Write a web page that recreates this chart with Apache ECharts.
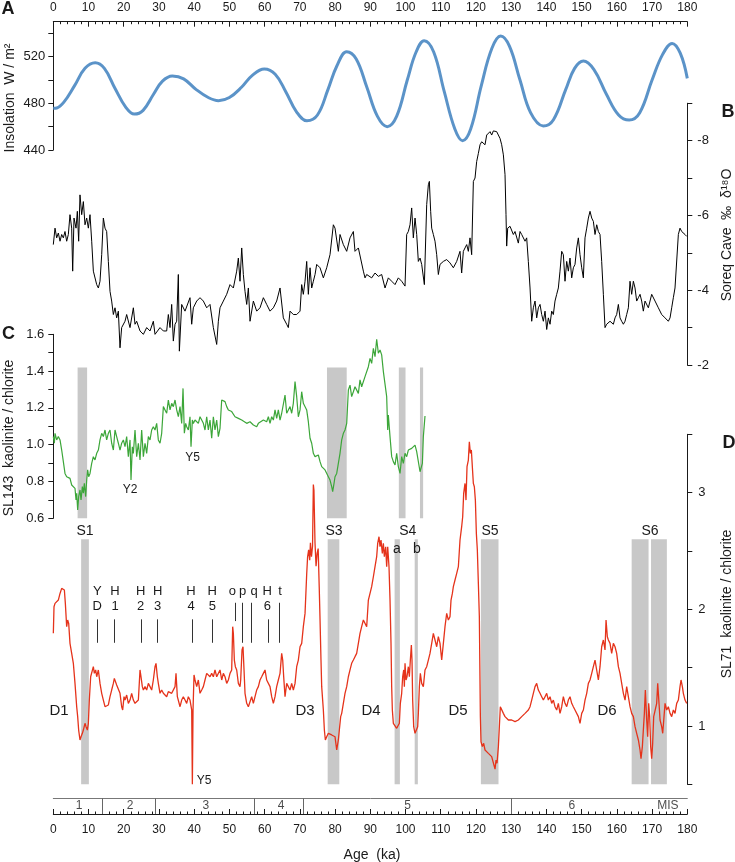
<!DOCTYPE html>
<html><head><meta charset="utf-8">
<script src="https://cdn.jsdelivr.net/npm/echarts@6/dist/echarts.min.js"></script>
<style>html,body{margin:0;padding:0;background:#fff}#c{width:735px;height:862px}</style>
</head><body><div id="c"></div>
<script>
// ---------- DATA (age ka, value) ----------
const insolation = [[0,475.7],[1,476],[3,481],[6,495],[9,510],[11.9,514.8],[14.5,510],[17.5,493],[20.5,477],[23,470.8],[25.5,474],[28.5,488],[31,499],[33.8,503.4],[37,501],[40.5,492],[44,485],[46.9,482.3],[50,485],[53.5,494],[56.5,504],[59.9,509.4],[63,505],[66,490],[69,473],[72,465.1],[75,470],[78,492],[80.5,512],[83.3,524.3],[86,518],[89,494],[92,469],[94.8,460],[97.5,469],[100.5,500],[103,524],[105.3,533.7],[108,524],[111,490],[114,458],[116.2,448],[118.5,458],[121.5,495],[124.5,527],[127,537.7],[129.5,529],[132.5,500],[135.5,472],[139.1,460.6],[142,466],[145.5,492],[148,510],[150.5,516.3],[153.5,509],[157,488],[160.5,470],[163.5,465.7],[166.5,472],[170,500],[173,522],[175.7,531.4],[178,523],[180,501.4]];

const soreq = [[0,-5.22],[0.49,-5.66],[0.96,-5.40],[1.43,-5.53],[1.91,-5.31],[2.38,-5.49],[2.85,-5.40],[3.32,-5.57],[3.80,-5.31],[4.27,-5.49],[4.74,-6.02],[5.22,-5.66],[5.50,-4.51],[5.88,-5.93],[6.45,-5.66],[6.83,-6.11],[7.20,-5.31],[7.58,-6.55],[8.06,-6.02],[8.53,-6.37],[9.00,-5.75],[9.48,-5.93],[9.95,-5.66],[10.42,-6.02],[10.90,-5.31],[11.37,-4.51],[12.32,-4.15],[12.79,-4.06],[13.26,-4.24],[13.74,-4.95],[14.21,-5.93],[14.68,-5.66],[15.15,-5.57],[15.63,-4.77],[16.10,-3.97],[16.57,-3.71],[17.05,-3.35],[17.52,-3.53],[17.99,-3.26],[18.47,-3.44],[18.94,-2.46],[19.41,-3.00],[20.36,-3.17],[20.83,-3.35],[21.78,-3.00],[22.73,-3.53],[23.20,-3.09],[23.67,-3.17],[24.62,-2.91],[25.57,-2.82],[26.51,-3.00],[27.46,-2.91],[28.40,-3.17],[28.88,-2.82],[30.30,-3.00],[31.25,-2.91],[32.19,-2.91],[32.66,-3.35],[33.14,-3.00],[33.61,-3.62],[34.08,-2.64],[34.56,-3.09],[35.03,-3.17],[35.50,-4.42],[35.79,-2.37],[36.45,-3.62],[37.40,-3.44],[38.81,-3.80],[39.29,-3.09],[39.76,-3.53],[40.71,-3.71],[41.65,-3.80],[42.60,-3.71],[43.55,-3.53],[44.49,-3.62],[45.44,-3.00],[46.39,-2.55],[46.86,-3.17],[47.33,-3.53],[48.28,-3.71],[49.23,-3.89],[50.17,-4.15],[51.12,-4.06],[52.07,-4.51],[52.54,-4.86],[53.01,-4.24],[53.49,-5.13],[53.96,-4.42],[54.43,-3.97],[54.91,-3.62],[55.38,-4.06],[55.85,-3.17],[56.80,-3.71],[57.74,-3.44],[58.69,-3.53],[59.64,-3.80],[60.58,-3.62],[61.53,-3.44],[62.48,-3.53],[63.42,-3.71],[64.37,-4.06],[65.31,-3.26],[66.26,-3.09],[66.73,-3.00],[67.21,-3.44],[68.15,-3.35],[69.10,-3.35],[70.05,-3.44],[70.52,-4.15],[70.99,-3.89],[71.47,-4.24],[71.94,-4.77],[72.41,-3.89],[72.89,-4.60],[73.36,-4.06],[73.83,-4.24],[74.31,-4.42],[74.78,-4.69],[75.73,-4.60],[76.67,-4.33],[77.62,-4.60],[78.56,-4.95],[79.51,-5.75],[79.98,-5.66],[80.93,-5.04],[81.40,-5.49],[82.35,-5.22],[83.30,-5.04],[84.24,-5.40],[85.19,-5.57],[85.66,-5.04],[86.61,-5.13],[87.08,-5.13],[88.03,-4.51],[88.50,-4.33],[88.97,-4.42],[89.45,-4.42],[90.39,-4.33],[91.34,-4.46],[92.29,-4.37],[93.23,-4.42],[94.18,-4.06],[95.12,-4.33],[96.07,-4.24],[97.02,-4.15],[97.96,-4.33],[98.91,-4.24],[99.86,-4.11],[100.33,-5.49],[100.80,-5.57],[101.28,-5.75],[101.75,-6.20],[102.22,-5.40],[102.70,-5.93],[103.17,-5.49],[103.64,-4.77],[104.12,-4.86],[104.59,-4.69],[105.35,-4.15],[106.01,-6.29],[106.48,-6.82],[106.77,-6.91],[107.14,-6.11],[107.43,-5.66],[107.90,-5.49],[108.37,-5.31],[108.85,-4.95],[109.32,-4.42],[109.79,-4.69],[110.74,-4.77],[111.69,-4.82],[112.63,-4.73],[113.58,-4.60],[114.53,-4.77],[115.47,-5.04],[115.94,-4.46],[116.42,-5.04],[116.89,-5.13],[117.37,-5.22],[117.84,-5.04],[118.31,-5.40],[118.78,-4.95],[119.26,-6.91],[119.73,-7.00],[120.20,-7.44],[120.68,-7.66],[121.15,-7.89],[121.62,-7.97],[122.10,-8.02],[122.57,-7.89],[123.04,-8.15],[123.52,-8.20],[123.99,-8.24],[124.46,-8.15],[124.94,-8.26],[125.41,-8.24],[125.88,-8.24],[126.36,-8.20],[126.83,-8.06],[127.30,-7.89],[127.78,-7.62],[128.25,-7.09],[128.53,-6.02],[128.72,-5.18],[129.01,-5.66],[129.67,-5.71],[130.61,-5.49],[131.09,-5.57],[132.03,-5.26],[132.51,-5.57],[132.98,-5.49],[133.93,-5.31],[134.40,-5.40],[134.87,-4.77],[135.35,-4.06],[135.82,-3.17],[136.29,-3.53],[136.77,-3.71],[137.24,-3.26],[137.71,-3.53],[138.19,-3.62],[138.66,-3.35],[139.13,-3.17],[139.61,-3.44],[140.08,-2.95],[140.55,-3.26],[141.03,-3.09],[141.50,-3.44],[141.97,-3.35],[142.44,-3.71],[142.92,-3.89],[143.39,-4.06],[143.86,-4.51],[144.34,-5.04],[144.81,-4.95],[145.28,-4.24],[145.76,-4.77],[146.23,-4.51],[146.70,-4.86],[147.18,-4.33],[147.65,-4.60],[148.12,-4.69],[148.60,-5.13],[149.07,-5.40],[149.54,-4.95],[150.02,-4.60],[150.49,-4.33],[150.96,-5.40],[151.44,-5.66],[151.91,-5.93],[152.38,-6.11],[152.86,-5.93],[153.33,-5.84],[153.80,-5.49],[154.28,-5.75],[154.75,-5.57],[155.22,-5.49],[155.69,-4.77],[156.17,-3.89],[156.64,-3.00],[157.11,-3.09],[158.06,-3.17],[158.53,-3.22],[159.01,-3.09],[159.48,-3.26],[159.95,-3.35],[160.43,-3.62],[160.90,-3.26],[161.37,-3.17],[161.85,-3.09],[162.32,-3.17],[162.79,-3.35],[163.27,-3.53],[163.74,-4.24],[164.21,-3.89],[164.69,-4.24],[165.16,-4.06],[165.63,-3.71],[166.11,-3.80],[166.58,-3.89],[167.05,-3.71],[167.52,-3.44],[168.00,-3.71],[168.94,-3.53],[169.89,-3.89],[170.84,-3.71],[171.78,-3.53],[172.73,-3.35],[173.68,-3.26],[174.62,-3.17],[175.10,-3.26],[175.57,-3.53],[176.04,-3.80],[176.51,-4.06],[176.99,-4.06],[177.46,-5.49],[177.93,-5.66],[178.41,-5.57],[179.35,-5.49],[179.83,-5.44]];

const sl143 = [[0.01,1.044],[0.30,1.008],[0.49,1.062],[0.96,1.026],[1.43,1.044],[1.91,1.026],[2.38,0.971],[2.85,0.908],[3.32,0.844],[3.80,0.826],[4.27,0.835],[4.74,0.817],[5.22,0.781],[5.69,0.790],[6.16,0.763],[6.45,0.700],[6.64,0.736],[6.92,0.645],[7.20,0.718],[7.58,0.754],[7.87,0.700],[8.25,0.772],[8.53,0.736],[8.81,0.790],[9.19,0.718],[9.48,0.808],[9.76,0.863],[10.04,0.826],[10.42,0.844],[10.90,0.899],[11.37,0.935],[11.84,0.917],[12.32,0.953],[12.79,0.971],[13.26,1.026],[13.74,1.062],[14.21,1.044],[14.68,1.080],[15.15,1.026],[15.63,1.062],[16.10,1.080],[16.57,1.008],[17.05,0.971],[17.52,1.080],[17.99,1.044],[18.47,1.008],[18.94,0.971],[19.41,1.008],[19.89,1.026],[20.36,0.989],[20.83,1.044],[21.31,0.935],[21.78,1.026],[22.06,0.808],[22.44,0.989],[22.73,0.953],[23.20,1.080],[23.67,0.935],[24.15,1.008],[24.62,0.917],[25.09,1.080],[25.57,0.935],[26.04,1.008],[26.51,0.953],[26.99,1.044],[27.46,1.026],[27.93,1.080],[28.40,1.098],[28.88,1.080],[29.35,1.116],[29.82,1.026],[30.30,1.008],[30.77,1.062],[31.25,1.207],[31.72,1.189],[32.19,1.171],[32.66,1.243],[33.14,1.189],[33.61,1.225],[34.08,1.207],[34.56,1.243],[35.03,1.189],[35.50,1.152],[35.98,1.207],[36.45,1.116],[36.83,1.306],[37.21,1.062],[37.58,1.116],[37.87,1.098],[38.34,1.080],[38.81,1.152],[39.10,0.989],[39.48,1.134],[39.76,1.116],[40.24,1.134],[40.71,1.143],[41.18,1.116],[41.65,1.152],[42.13,1.134],[42.60,1.116],[43.07,1.080],[43.55,1.152],[44.02,1.080],[44.49,1.134],[44.97,1.035],[45.44,1.152],[45.91,1.080],[46.39,1.134],[46.86,1.044],[47.33,1.089],[47.81,1.243],[48.28,1.252],[48.75,1.234],[49.23,1.207],[49.70,1.189],[50.17,1.198],[50.65,1.180],[51.12,1.171],[51.59,1.152],[52.07,1.161],[52.54,1.143],[53.01,1.152],[53.49,1.134],[53.96,1.125],[54.91,1.116],[55.85,1.125],[56.80,1.107],[57.74,1.098],[58.22,1.116],[58.69,1.107],[59.64,1.134],[60.58,1.125],[61.06,1.152],[61.53,1.116],[62.00,1.152],[62.48,1.134],[62.95,1.189],[63.42,1.143],[63.89,1.189],[64.37,1.134],[64.84,1.171],[65.31,1.171],[65.79,1.270],[66.26,1.171],[66.73,1.189],[67.21,1.207],[67.68,1.171],[68.15,1.225],[68.63,1.343],[69.10,1.261],[69.57,1.152],[70.05,1.189],[70.52,1.288],[70.99,1.225],[71.47,1.234],[71.94,1.189],[72.41,1.125],[72.89,1.035],[73.36,1.008],[73.83,0.953],[74.31,0.935],[74.78,0.926],[75.25,0.944],[75.73,0.908],[76.20,0.881],[76.67,0.890],[77.15,0.863],[77.62,0.872],[78.09,0.826],[78.56,0.808],[79.04,0.772],[79.32,0.745],[79.70,0.790],[79.98,0.826],[80.46,0.844],[80.93,0.899],[81.40,0.953],[81.88,1.026],[82.35,1.062],[82.82,1.080],[83.30,1.116],[83.77,1.297],[84.24,1.324],[84.71,1.261],[85.19,1.288],[85.66,1.315],[86.13,1.306],[86.61,1.279],[87.08,1.352],[87.55,1.315],[88.03,1.324],[88.50,1.370],[88.97,1.379],[89.45,1.424],[89.92,1.469],[90.39,1.442],[90.87,1.524],[91.34,1.478],[91.81,1.573],[92.29,1.497],[92.76,1.515],[93.23,1.488],[93.71,1.397],[94.18,1.397],[94.65,1.261],[94.94,1.080],[95.12,1.161],[95.60,1.044],[96.07,0.935],[96.54,0.908],[97.02,0.890],[97.49,0.953],[97.96,0.881],[98.44,0.844],[98.91,0.935],[99.38,0.899],[99.86,0.953],[100.33,0.935],[100.80,0.971],[101.28,0.962],[101.75,0.980],[102.22,0.989],[102.70,0.998],[103.17,0.962],[103.64,0.953],[104.12,0.853],[104.40,0.844],[104.78,0.899],[105.06,1.044],[105.53,1.156]];

const sl71 = [[0.01,1.794],[0.20,2.022],[0.49,2.051],[0.96,2.065],[1.43,2.079],[1.91,2.136],[2.38,2.179],[2.85,2.194],[3.14,2.165],[3.42,2.051],[3.80,1.851],[4.08,1.908],[4.37,1.879],[4.74,1.708],[5.22,1.622],[5.69,1.537],[6.16,1.365],[6.64,1.165],[6.92,1.080],[7.20,0.965],[7.58,0.880],[7.87,0.908],[8.25,0.937],[8.53,0.965],[9.00,1.023],[9.29,0.994],[9.67,0.965],[9.95,1.023],[10.23,1.222],[10.61,1.422],[10.90,1.408],[11.37,1.508],[11.65,1.451],[12.03,1.480],[12.32,1.422],[12.79,1.480],[13.26,1.365],[13.74,1.280],[14.21,1.222],[14.68,1.165],[15.15,1.165],[15.63,1.180],[16.10,1.251],[16.57,1.308],[17.05,1.365],[17.33,1.408],[17.61,1.422],[17.99,1.351],[18.47,1.337],[18.94,1.280],[19.41,1.165],[19.70,1.137],[20.08,1.251],[20.36,1.222],[20.83,1.265],[21.31,1.194],[21.78,1.222],[22.25,1.280],[22.73,1.222],[23.20,1.194],[23.67,1.208],[24.15,1.222],[24.62,1.480],[24.90,1.422],[25.28,1.337],[25.57,1.308],[26.04,1.337],[26.51,1.308],[26.99,1.365],[27.46,1.337],[27.93,1.308],[28.40,1.394],[28.88,1.508],[29.16,1.537],[29.54,1.422],[29.82,1.365],[30.30,1.280],[30.77,1.308],[31.25,1.280],[31.72,1.294],[32.19,1.251],[32.66,1.294],[33.14,1.280],[33.61,1.280],[34.08,1.265],[34.56,1.337],[34.84,1.451],[35.22,1.251],[35.50,1.251],[35.98,1.165],[36.45,1.222],[36.92,1.251],[37.40,1.222],[37.87,1.194],[38.34,1.251],[38.81,1.222],[39.29,1.137],[39.48,0.50],[39.67,1.137],[39.95,1.437],[40.24,1.394],[40.71,1.337],[41.18,1.394],[41.65,1.280],[42.13,1.308],[42.60,1.337],[43.07,1.394],[43.55,1.451],[44.02,1.465],[44.49,1.422],[44.97,1.451],[45.44,1.422],[45.91,1.480],[46.39,1.422],[46.86,1.437],[47.33,1.480],[47.81,1.394],[48.28,1.451],[48.75,1.422],[49.23,1.365],[49.70,1.394],[50.17,1.451],[50.65,1.480],[50.93,1.851],[51.12,1.794],[51.40,1.565],[51.69,1.508],[52.07,1.480],[52.54,1.365],[53.01,1.337],[53.20,1.394],[53.58,1.651],[53.86,1.679],[54.15,1.480],[54.43,1.280],[54.91,1.194],[55.38,1.165],[55.85,1.180],[56.32,1.251],[56.80,1.194],[57.27,1.251],[57.74,1.308],[58.22,1.337],[58.69,1.394],[59.16,1.422],[59.64,1.451],[60.11,1.480],[60.58,1.394],[61.06,1.394],[61.53,1.337],[62.00,1.251],[62.48,1.194],[62.95,1.251],[63.42,1.337],[63.89,1.394],[64.37,1.451],[64.84,1.622],[65.13,1.565],[65.41,1.422],[65.79,1.251],[66.26,1.365],[66.73,1.337],[67.21,1.308],[67.68,1.365],[68.15,1.308],[68.63,1.365],[69.10,1.508],[69.57,1.565],[70.05,1.679],[70.52,1.708],[70.99,1.851],[71.47,1.965],[71.94,2.300],[72.20,2.450],[72.50,2.510],[72.80,2.420],[73.00,2.570],[73.30,2.450],[73.60,2.540],[73.83,3.070],[74.00,3.020],[74.30,2.570],[74.60,2.370],[74.90,2.480],[75.20,2.520],[75.50,2.190],[75.73,1.910],[76.00,1.565],[76.20,1.337],[76.67,1.137],[76.96,0.965],[77.24,0.880],[77.62,0.908],[78.09,0.937],[78.56,0.951],[79.04,0.923],[79.51,0.937],[79.98,0.908],[80.46,0.794],[80.93,0.880],[81.21,0.965],[81.59,1.080],[81.88,1.108],[82.35,1.194],[82.82,1.280],[83.30,1.337],[83.77,1.422],[84.24,1.480],[84.71,1.537],[85.19,1.565],[85.66,1.594],[86.13,1.622],[86.61,1.708],[87.08,1.794],[87.55,1.851],[88.03,1.908],[88.50,1.922],[88.97,1.851],[89.45,2.079],[90.39,2.194],[90.87,2.279],[91.34,2.365],[91.81,2.451],[92.10,2.565],[92.47,2.622],[92.76,2.536],[93.04,2.594],[93.42,2.479],[93.71,2.565],[93.99,2.451],[94.37,2.536],[94.65,2.365],[94.94,2.536],[95.31,2.365],[95.60,2.079],[95.88,1.708],[96.07,1.337],[96.26,1.137],[96.54,1.023],[97.02,1.008],[97.49,0.980],[97.96,0.994],[98.25,1.023],[98.53,1.194],[98.91,1.280],[99.19,1.422],[99.48,1.480],[99.67,1.337],[99.86,1.537],[100.14,1.394],[100.42,1.422],[100.80,1.508],[101.09,1.422],[101.37,1.565],[101.66,1.694],[101.84,1.565],[102.03,1.222],[102.32,0.994],[102.70,0.937],[103.17,0.937],[103.45,0.994],[103.64,1.108],[103.93,1.337],[104.21,1.451],[104.59,1.365],[105.06,1.337],[105.53,1.480],[106.01,1.508],[106.48,1.565],[106.95,1.622],[107.43,1.708],[107.90,1.794],[108.37,1.737],[108.85,1.679],[109.32,1.765],[109.79,1.708],[110.27,1.565],[110.74,1.708],[111.21,1.851],[111.69,1.965],[112.16,1.908],[112.63,1.937],[112.92,2.079],[113.30,2.136],[113.58,2.194],[114.05,2.251],[114.53,2.308],[115.00,2.365],[115.47,2.594],[115.94,2.708],[116.23,2.793],[116.51,2.993],[116.89,3.079],[117.17,2.936],[117.46,3.222],[117.84,3.279],[118.12,3.436],[118.41,3.336],[118.69,3.365],[118.97,3.222],[119.26,3.079],[119.54,3.050],[119.83,2.936],[120.11,2.651],[120.39,2.508],[120.68,2.222],[120.96,1.937],[121.25,1.080],[121.43,0.865],[121.81,0.823],[122.19,0.851],[122.57,0.794],[123.04,0.808],[123.52,0.765],[123.99,0.780],[124.46,0.737],[124.94,0.751],[125.41,0.630],[125.70,0.708],[125.98,0.680],[126.36,0.823],[126.64,0.994],[126.92,1.165],[127.30,1.165],[127.78,1.108],[128.25,1.080],[128.72,1.080],[129.20,1.051],[130.14,1.051],[131.09,1.037],[131.56,1.023],[132.03,1.051],[132.98,1.080],[133.93,1.108],[134.87,1.137],[135.35,1.165],[135.82,1.222],[136.29,1.280],[136.77,1.337],[137.24,1.365],[137.71,1.308],[138.19,1.280],[138.66,1.251],[139.13,1.222],[139.61,1.251],[140.08,1.280],[140.55,1.222],[141.03,1.251],[141.50,1.194],[141.97,1.222],[142.44,1.165],[142.92,1.137],[143.39,1.194],[143.86,1.108],[144.34,1.165],[144.81,1.251],[145.28,1.194],[145.76,1.165],[146.23,1.222],[146.70,1.251],[147.18,1.194],[147.65,1.165],[148.12,1.137],[149.07,1.080],[149.54,1.023],[150.02,1.108],[150.49,1.137],[150.96,1.222],[151.44,1.280],[151.91,1.365],[152.38,1.394],[152.86,1.451],[153.33,1.508],[153.80,1.565],[154.28,1.565],[154.75,1.394],[155.22,1.508],[155.69,1.679],[156.17,1.737],[156.64,1.651],[156.93,1.908],[157.30,1.765],[157.59,1.737],[158.06,1.708],[158.53,1.622],[159.01,1.708],[159.48,1.679],[159.95,1.622],[160.43,1.508],[160.90,1.451],[161.37,1.365],[161.85,1.280],[162.32,1.222],[162.79,1.337],[163.27,1.337],[163.74,1.165],[164.21,1.108],[164.69,1.080],[165.16,0.994],[165.63,0.937],[166.11,0.880],[166.58,0.794],[166.86,0.720],[167.24,0.823],[167.52,0.965],[167.81,1.108],[168.09,1.308],[168.47,1.051],[168.75,0.908],[169.04,1.194],[169.32,1.080],[169.60,0.823],[169.89,0.720],[170.17,0.851],[170.46,1.080],[170.84,1.080],[171.31,1.194],[171.60,1.365],[171.97,1.194],[172.26,1.051],[172.73,0.994],[173.02,0.937],[173.39,1.080],[173.68,1.194],[174.15,1.137],[174.62,1.165],[175.10,1.108],[175.57,1.080],[176.04,1.137],[176.51,1.108],[176.99,1.194],[177.46,1.222],[177.93,1.337],[178.22,1.394],[178.60,1.337],[178.88,1.280],[179.35,1.222],[179.83,1.194]];

// shaded intervals (age from, age to)
const shadeC = [[6.9,9.6],[77.7,83.3],[98.1,100.0],[104.1,105.0]];
const shadeD = [[7.9,10.1],[77.9,81.2],[96.9,98.4],[102.6,103.5],[121.4,126.4],[164.2,169.0],[169.7,174.2]];
const shadeCRange = [0.6, 1.42];
const shadeDRange = [0.5, 2.6];

// event markers in SL71 (age, top value, bottom value)
const eventAges = [12.5,17.4,24.9,29.4,39.5,45.1,51.7,53.7,56.3,61.0,64.2];
const eventTop  = [1.914,1.914,1.914,1.914,1.914,1.914,2.056,2.056,2.056,1.914,2.056];
const eventBot  = [1.713,1.713,1.713,1.713,1.713,1.713,1.899,1.713,1.713,1.713,1.713];

// MIS stages
const misBounds = [14,29,57,71,130];
const misLabels = ['1','2','3','4','5','6','MIS'];
const misLabelAges = [7.3,21.8,43.3,64.7,100.6,147.2,174.5];

// ---------- CHART ----------
const FONT = '"Liberation Sans", Arial, Helvetica, sans-serif';
const INK = '#1a1a1a';
const L = 53.3, R = 47.7;
const xBase = {type:'value', min:0, max:180, interval:10};
const rng = (a,b,s)=>{const r=[];for(let i=0;a+i*s<=b+1e-9;i++)r.push(+(a+i*s).toFixed(4));return r;};

const hiddenX = g => Object.assign({gridIndex:g, show:false}, xBase);
const yCommon = (extra) => Object.assign({
  type:'value', splitLine:{show:false},
  axisLine:{show:true, onZero:false, lineStyle:{color:INK, width:1}},
  axisTick:{show:true, length:5, lineStyle:{color:INK, width:1}},
  axisLabel:{fontSize:13, color:INK, fontFamily:FONT}
}, extra);

const chart = echarts.init(document.getElementById('c'), null, {renderer:'canvas'});

const textEl = (t, x, y, size, opts={}) => ({
  type:'text', x, y, z:100, zlevel:0, rotation: opts.rot || 0, silent:true,
  style:{text:t, x:0, y:0, font:(opts.bold?'bold ':'') + size + 'px ' + FONT, fill:INK,
    align:'center', verticalAlign:'middle', textAlign:'center', textVerticalAlign:'middle'}
});

const graphics = [
  textEl('A', 8, 9, 18, {bold:true}),
  textEl('B', 728, 112, 18, {bold:true}),
  textEl('C', 8.5, 334, 18, {bold:true}),
  textEl('D', 729, 443, 18, {bold:true}),
  textEl('Insolation  W / m\u00B2', 10, 98, 14, {rot:Math.PI/2}),
  textEl('Soreq Cave  \u2030  \u03B4\u00B9\u2078O', 727, 235, 14, {rot:Math.PI/2}),
  textEl('SL143  kaolinite / chlorite', 9, 438, 14, {rot:Math.PI/2}),
  textEl('SL71  kaolinite / chlorite', 727, 604, 14, {rot:Math.PI/2}),
  textEl('S1', 85, 531, 14), textEl('S3', 334, 531, 14), textEl('S4', 407.7, 531, 14),
  textEl('S5', 490, 531, 14), textEl('S6', 650, 531, 14),
  textEl('a', 397, 549, 14), textEl('b', 417, 549, 14),
  textEl('Y2', 130, 490, 12), textEl('Y5', 192.7, 458, 12), textEl('Y5', 204, 781, 12),
  textEl('D1', 59, 711, 15), textEl('D3', 305, 711, 15), textEl('D4', 371, 711, 15),
  textEl('D5', 458, 711, 15), textEl('D6', 607, 711, 15),
  textEl('Age  (ka)', 372, 855, 14)
];
// event labels (two rows)
const evTop = [['Y',97.3],['H',115],['H',140.7],['H',157.7],['H',191],['H',212.3],['o',232.3],['p',242.7],['q',254],['H',267.3],['t',280]];
const evBot = [['D',97.3],['1',115],['2',140.7],['3',157.7],['4',191],['5',212.3],['6',267.3]];
evTop.forEach(e=>graphics.push(textEl(e[0], e[1], 591.7, 13)));
evBot.forEach(e=>graphics.push(textEl(e[0], e[1], 606.7, 13)));

const option = {
  animation:false,
  backgroundColor:'#fff',
  grid:[
    {left:L, right:R, top:21.7, height:128.3},
    {left:L, right:R, top:103.25, height:261.75},
    {left:L, right:R, top:334.3, height:184},
    {left:L, right:R, top:434.3, height:350},
    {left:L, right:R, top:798.3, height:15.7}
  ],
  xAxis:[
    Object.assign({gridIndex:0, position:'top',
      axisLine:{show:true, lineStyle:{color:INK}},
      axisTick:{show:true, inside:true, length:5, lineStyle:{color:INK}},
      minorTick:{show:true, splitNumber:5, length:2.5, lineStyle:{color:INK}},
      axisLabel:{margin:8, fontSize:12, color:INK, fontFamily:FONT},
      splitLine:{show:false}}, xBase),
    hiddenX(1), hiddenX(2), hiddenX(3),
    Object.assign({gridIndex:4, position:'bottom',
      axisLine:{show:true, onZero:false, lineStyle:{color:INK}},
      axisTick:{show:true, inside:true, length:5, lineStyle:{color:INK}},
      minorTick:{show:true, splitNumber:5, length:2.5, lineStyle:{color:INK}},
      axisLabel:{margin:10, fontSize:12, color:INK, fontFamily:FONT},
      splitLine:{show:false}}, xBase),
    Object.assign({gridIndex:4, position:'top',
      axisLine:{show:true, onZero:false, lineStyle:{color:'#777'}},
      axisTick:{show:false}, axisLabel:{show:false}, splitLine:{show:false}}, xBase)
  ],
  yAxis:[
    yCommon({gridIndex:0, min:440, max:550, position:'left',
      axisTick:{show:true, length:5, lineStyle:{color:INK}, customValues:rng(440,540,20)},
      axisLabel:{fontSize:13, color:INK, fontFamily:FONT, margin:8, customValues:[440,480,520]}}),
    yCommon({gridIndex:1, min:-9, max:-2, inverse:true, position:'right',
      axisTick:{show:true, length:5, lineStyle:{color:INK}, customValues:rng(-9,-2,1)},
      axisLabel:{fontSize:13, color:INK, fontFamily:FONT, margin:10, customValues:[-8,-6,-4,-2]}}),
    yCommon({gridIndex:2, min:0.6, max:1.6, position:'left',
      axisTick:{show:true, length:5, lineStyle:{color:INK}, customValues:rng(0.6,1.6,0.1)},
      axisLabel:{fontSize:13, color:INK, fontFamily:FONT, margin:9, customValues:rng(0.6,1.6,0.2),
        formatter:v=>(+v).toFixed(1)}}),
    yCommon({gridIndex:3, min:0.5, max:3.5, position:'right',
      axisTick:{show:true, length:5, lineStyle:{color:INK}, customValues:rng(0.5,3.5,0.5)},
      axisLabel:{fontSize:13, color:INK, fontFamily:FONT, margin:11, customValues:[1,2,3]}}),
    {gridIndex:4, type:'value', min:0, max:1, show:false}
  ],
  graphic: {elements: graphics},
  series:[
    {type:'line', xAxisIndex:0, yAxisIndex:0, data:insolation, smooth:0.4, showSymbol:false, z:5,
      lineStyle:{color:'#5b93c8', width:3}},
    {type:'line', xAxisIndex:1, yAxisIndex:1, data:soreq, showSymbol:false, z:5,
      lineStyle:{color:'#000', width:1}},
    {type:'line', xAxisIndex:2, yAxisIndex:2, data:[], z:1, silent:true,
      markArea:{silent:true, itemStyle:{color:'#c8c8c8'},
        data: shadeC.map(s=>[{xAxis:s[0], yAxis:shadeCRange[0]},{xAxis:s[1], yAxis:shadeCRange[1]}])}},
    {type:'line', xAxisIndex:2, yAxisIndex:2, data:sl143, showSymbol:false, z:5,
      lineStyle:{color:'#3ca639', width:1.2}},
    {type:'line', xAxisIndex:3, yAxisIndex:3, data:[], z:1, silent:true,
      markArea:{silent:true, itemStyle:{color:'#c8c8c8'},
        data: shadeD.map(s=>[{xAxis:s[0], yAxis:shadeDRange[0]},{xAxis:s[1], yAxis:shadeDRange[1]}])}},
    {type:'line', xAxisIndex:3, yAxisIndex:3, data:sl71, showSymbol:false, z:5,
      lineStyle:{color:'#e5331b', width:1.3}},
    {type:'line', xAxisIndex:3, yAxisIndex:3, data:[], z:6, silent:true,
      markLine:{silent:true, symbol:['none','none'], label:{show:false},
        lineStyle:{color:'#333', width:1, type:'solid'},
        data: eventAges.map((a,i)=>[{coord:[a,eventTop[i]]},{coord:[a,eventBot[i]]}])}},
    {type:'line', xAxisIndex:4, yAxisIndex:4, data:[], z:3, silent:true,
      markLine:{silent:true, symbol:['none','none'], label:{show:false},
        lineStyle:{color:'#666', width:1, type:'solid'},
        data: misBounds.map(b=>({xAxis:b}))}},
    {type:'scatter', xAxisIndex:4, yAxisIndex:4, z:4, silent:true, symbolSize:1,
      itemStyle:{color:'rgba(0,0,0,0)'},
      label:{show:true, position:'inside', formatter:p=>p.name, fontSize:12, color:INK, fontFamily:FONT},
      data: misLabels.map((n,i)=>({name:n, value:[misLabelAges[i], 0.5]}))}
  ]
};
chart.setOption(option);
</script>
</body></html>
